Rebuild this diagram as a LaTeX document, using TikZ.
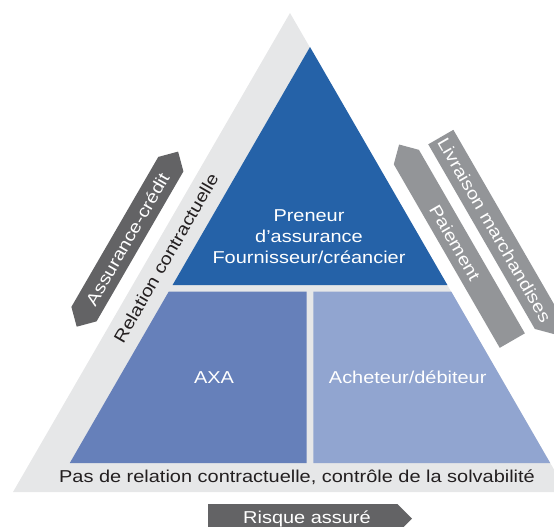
\documentclass[tikz,border=0pt]{standalone}
\usepackage{fontspec}
\newfontfamily\labfont{Liberation Sans}[FakeStretch=1.16]
\definecolor{bandgrey}{RGB}{230,231,232}
\definecolor{topblue}{RGB}{37,98,168}
\definecolor{midblue}{RGB}{102,128,186}
\definecolor{lightblue}{RGB}{145,165,208}
\definecolor{darkarrow}{RGB}{99,99,101}
\definecolor{lightarrow}{RGB}{147,149,152}
\definecolor{inktext}{RGB}{35,31,32}
\begin{document}
\begin{tikzpicture}[x=1pt,y=-1pt,
  lab/.style={font=\labfont\fontsize{17.2}{21}\selectfont, inner sep=0pt},
  whitelab/.style={lab, text=white},
  darklab/.style={lab, text=inktext}]
\useasboundingbox (0,0) rectangle (554,527);
\clip (0,0) rectangle (554,527);
% outer grey triangle
\fill[bandgrey] (290,13) -- (567,492) -- (13,492) -- cycle;
% top blue triangle
\fill[topblue] (310,47) -- (447.4,285) -- (172.6,285) -- cycle;
% lower trapezoids
\fill[midblue] (168.8,291.5) -- (306.7,291.5) -- (306.7,463) -- (69.8,463) -- cycle;
\fill[lightblue] (313.3,291.5) -- (451.2,291.5) -- (550.2,463) -- (313.3,463) -- cycle;
% left double arrow
\fill[darkarrow] (178.1,151.6) -- (183.41,171.41) -- (96.51,321.39) -- (76.7,326.7)
  -- (71.39,306.89) -- (158.29,156.91) -- cycle;
% Paiement arrow
\fill[lightarrow] (399.1,144.52) -- (418.91,149.83) -- (524.86,333.33) -- (499.74,347.83)
  -- (393.79,164.33) -- cycle;
% Livraison arrow
\fill[lightarrow] (428.24,144.32) -- (453.36,129.82) -- (559.96,314.45) -- (554.65,334.26)
  -- (534.84,328.95) -- cycle;
% Risque assure arrow
\fill[darkarrow] (208,504) -- (397.5,504) -- (412,518.5) -- (397.5,533) -- (208,533) -- cycle;
% texts
\node[whitelab, anchor=base] (pren1) at (309,221.5) {Preneur};
\node[whitelab, anchor=base] (pren2) at (309,242.5) {d’assurance};
\node[whitelab, anchor=base] (pren3) at (309,263.5) {Fournisseur/créancier};
\node[whitelab, anchor=base] (axa) at (214,383.5) {AXA};
\node[whitelab, anchor=base] (buyer) at (407.7,383.5) {Acheteur/débiteur};
\node[darklab, anchor=base] (nocontract) at (297,482.7) {Pas de relation contractuelle, contrôle de la solvabilité};
\node[whitelab, anchor=base] (risk) at (307,523) {Risque assuré};
\node[darklab, rotate=60] (contract) at (166,258) {Relation contractuelle};
\node[whitelab, rotate=60] (credit) at (127.4,239.2) {Assurance-crédit};
\node[whitelab, rotate=-60] (pay) at (455,242.5) {Paiement};
\node[whitelab, rotate=-60] (deliver) at (494.5,230) {Livraison marchandises};
\end{tikzpicture}
\end{document}
